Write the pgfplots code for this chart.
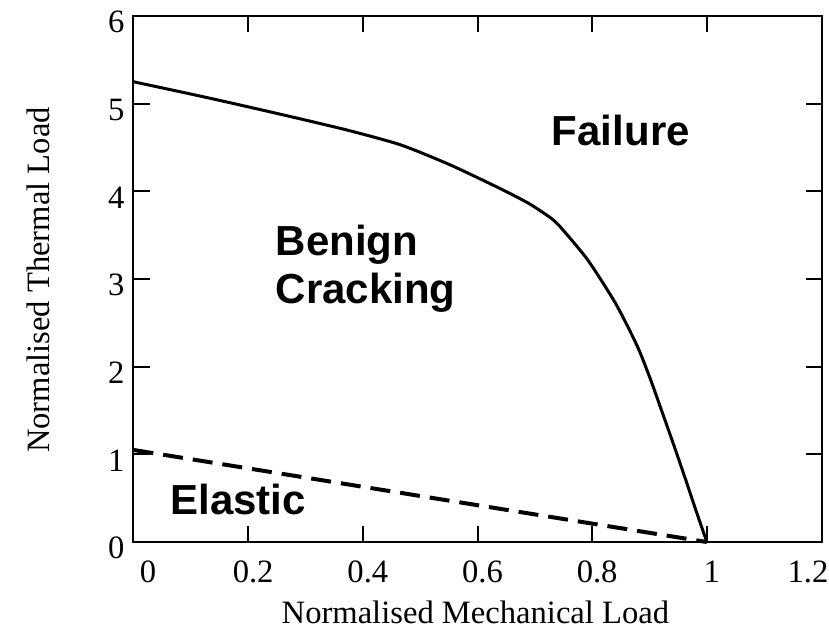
\documentclass[border=0pt]{standalone}
\usepackage{pgfplots}
\pgfplotsset{compat=1.18}
\usepackage{fontspec}
\setmainfont{Liberation Serif}
\newfontfamily\arialf{Liberation Sans}
\begin{document}
\begin{tikzpicture}
\path[use as bounding box] (-66.75pt,-46pt) rectangle (347.75pt,271pt);
\begin{axis}[
  scale only axis=true,
  width=344pt, height=263pt,
  xmin=0, xmax=1.2, ymin=0, ymax=6,
  xtick={0,0.2,0.4,0.6,0.8,1,1.2},
  xticklabels={{\rule{9.5pt}{0pt}0},0.2,0.4,0.6,0.8,1,{1.2\rule{18.5pt}{0pt}}},
  ytick={0,1,2,3,4,5,6},
  tick align=inside,
  major tick length=8pt,
  axis line style={line width=1pt},
  every tick/.style={black, line width=1pt},
  /pgf/number format/assume math mode=true,
  tick label style={font=\fontsize{16.3}{19}\selectfont},
  xticklabel style={xshift=2.5pt, yshift=-6pt},
  yticklabel style={yshift=-3pt, xshift=-1pt},
  label style={font=\fontsize{16.3}{19}\selectfont},
  xlabel={Normalised Mechanical Load},
  ylabel={Normalised Thermal Load},
  xlabel style={at={(axis description cs:0.497,-0.133)}, anchor=center},
  ylabel style={at={(axis description cs:-0.1376,0.498)}, anchor=center},
  clip=false,
]
\addplot[black, line width=1.5pt, smooth, tension=0.4] coordinates {
  (0,5.25) (0.128,5.07) (0.256,4.88) (0.372,4.70) (0.466,4.53) (0.553,4.30)
  (0.640,4.03) (0.690,3.86) (0.727,3.70) (0.745,3.59) (0.792,3.22)
  (0.841,2.72) (0.879,2.23) (0.902,1.85) (0.920,1.52) (0.940,1.15)
  (0.960,0.77) (0.980,0.38) (1.0,0)
};
\addplot[black, line width=2pt, dash pattern=on 10pt off 5pt] coordinates {
  (0,1.05) (1.0,0)
};
\node[font=\arialf\bfseries\fontsize{21}{24}\selectfont, anchor=center] at (axis cs:0.85,4.69) {Failure};
\node[font=\arialf\bfseries\fontsize{21}{24}\selectfont, anchor=west, align=left] at (axis cs:0.236,3.12) {Benign\\Cracking};
\node[font=\arialf\bfseries\fontsize{21}{24}\selectfont, anchor=west] at (axis cs:0.052,0.48) {Elastic};
\end{axis}
\end{tikzpicture}
\end{document}
